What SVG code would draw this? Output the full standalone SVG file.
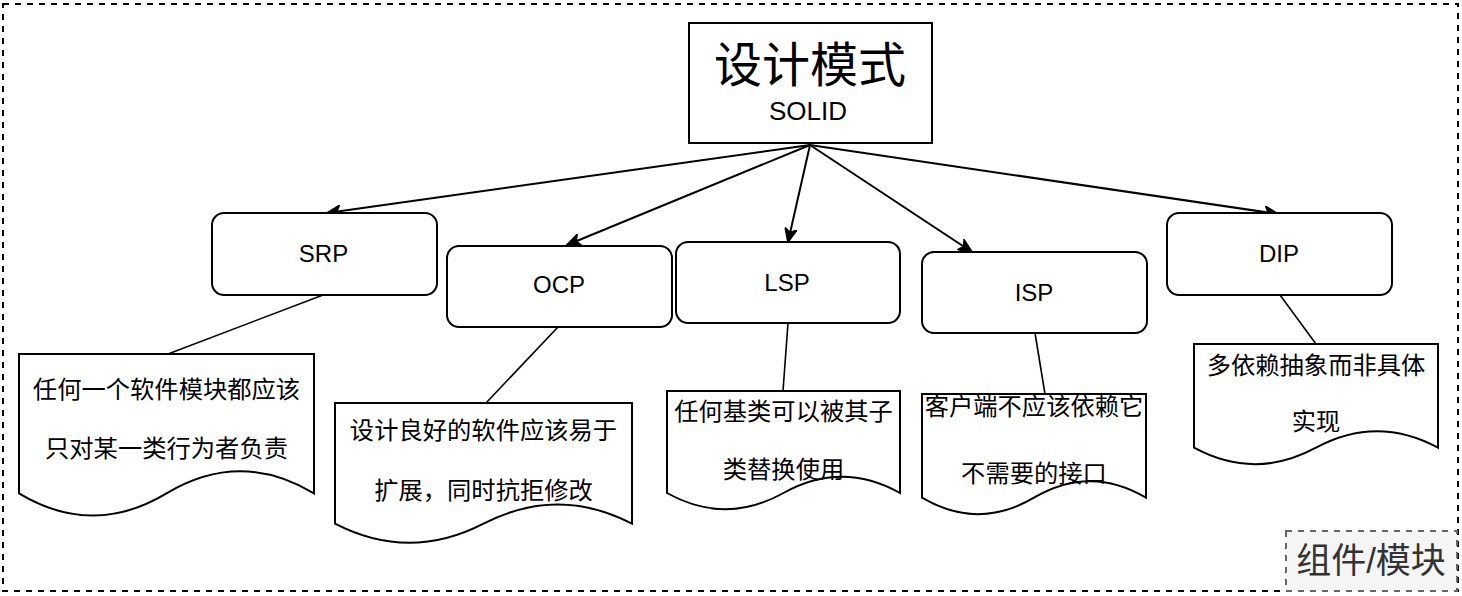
<svg xmlns="http://www.w3.org/2000/svg" width="1462" height="596" viewBox="0 0 1462 596">
<style>
.box{fill:#fff;stroke:#000;stroke-width:2}
.doc{fill:#fff;stroke:#000;stroke-width:2;stroke-linejoin:miter}
.t{font-family:"Liberation Sans","Noto Sans CJK SC",sans-serif;fill:#000;text-anchor:middle}
.n{font-size:24px}
.d{font-size:24.3px}
.arrow{fill:none;stroke:#000;stroke-width:2;marker-end:url(#ah)}
.link{fill:none;stroke:#000;stroke-width:1.6}
</style>
<defs>
<marker id="ah" viewBox="0 0 15 13" refX="14" refY="6.5" markerWidth="15" markerHeight="13" markerUnits="userSpaceOnUse" orient="auto">
<path d="M15,6.5 L0,0 L3.75,6.5 L0,13 Z" fill="#000" stroke="#000" stroke-width="1"/>
</marker>
</defs>
<rect x="3" y="4" width="1455" height="587" fill="#fff" stroke="#000" stroke-width="2" stroke-dasharray="6 6"/>
<g id="label">
<rect x="1286" y="531" width="171" height="60" fill="#f5f5f5" stroke="#666" stroke-width="2" stroke-dasharray="6 6"/>
<text x="1371" y="573" class="t" style="font-size:35px;fill:#333">组件/模块</text>
</g>
<g id="connectors">
<line class="arrow" x1="810" y1="145" x2="327" y2="213"/>
<line class="arrow" x1="810" y1="145" x2="567" y2="245"/>
<line class="arrow" x1="810" y1="145" x2="788" y2="242"/>
<line class="arrow" x1="810" y1="145" x2="972" y2="252"/>
<line class="arrow" x1="810" y1="145" x2="1278" y2="214"/>
<line class="link" x1="323" y1="295" x2="168" y2="354"/>
<line class="link" x1="558" y1="327" x2="486" y2="403"/>
<line class="link" x1="788" y1="323" x2="783" y2="391"/>
<line class="link" x1="1035" y1="333" x2="1045" y2="394"/>
<line class="link" x1="1280" y1="295" x2="1316" y2="344"/>
</g>
<g id="solid">
<rect class="box" x="689" y="23" width="243" height="120"/>
<text x="810" y="82" class="t" style="font-size:48px">设计模式</text>
<text x="808" y="120" class="t" style="font-size:26px">SOLID</text>
</g>
<g id="srp">
<rect class="box" x="212" y="213" width="225" height="82" rx="12"/>
<text x="323.5" y="262" class="t n">SRP</text>
</g>
<g id="ocp">
<rect class="box" x="447" y="246" width="225" height="81" rx="12"/>
<text x="559" y="293" class="t n">OCP</text>
</g>
<g id="lsp">
<rect class="box" x="676" y="242" width="224" height="81" rx="12"/>
<text x="787" y="291" class="t n">LSP</text>
</g>
<g id="isp">
<rect class="box" x="922" y="252" width="225" height="81" rx="12"/>
<text x="1034" y="301" class="t n">ISP</text>
</g>
<g id="dip">
<rect class="box" x="1167" y="213" width="225" height="82" rx="12"/>
<text x="1279" y="262" class="t n">DIP</text>
</g>
<g id="srp-doc">
<path class="doc" d="M19,354 L314,354 L314,493.4 Q240.25,449.1 166.5,493.4 Q92.75,537.7 19,493.4 Z"/>
<text x="166.5" y="398" class="t d">任何一个软件模块都应该</text>
<text x="166.5" y="457" class="t d">只对某一类行为者负责</text>
</g>
<g id="ocp-doc">
<path class="doc" d="M335,403 L632,403 L632,523.7 Q557.75,485.4 483.5,523.7 Q409.25,562 335,523.7 Z"/>
<text x="483.5" y="439" class="t d">设计良好的软件应该易于</text>
<text x="483.5" y="499" class="t d">扩展，同时抗拒修改</text>
</g>
<g id="lsp-doc">
<path class="doc" d="M667,391 L900,391 L900,493 Q841.75,460.6 783.5,493 Q725.25,525.4 667,493 Z"/>
<text x="783.5" y="420" class="t d">任何基类可以被其子</text>
<text x="783.5" y="478" class="t d">类替换使用</text>
</g>
<g id="isp-doc">
<path class="doc" d="M922,394 L1146,394 L1146,497.7 Q1090,464.8 1034,497.7 Q978,530.6 922,497.7 Z"/>
<text x="1034" y="415" class="t d">客户端不应该依赖它</text>
<text x="1034" y="482" class="t d">不需要的接口</text>
</g>
<g id="dip-doc">
<path class="doc" d="M1194,344 L1438,344 L1438,447.7 Q1377,414.8 1316,447.7 Q1255,480.6 1194,447.7 Z"/>
<text x="1316" y="374" class="t d">多依赖抽象而非具体</text>
<text x="1316" y="430" class="t d">实现</text>
</g>
</svg>
